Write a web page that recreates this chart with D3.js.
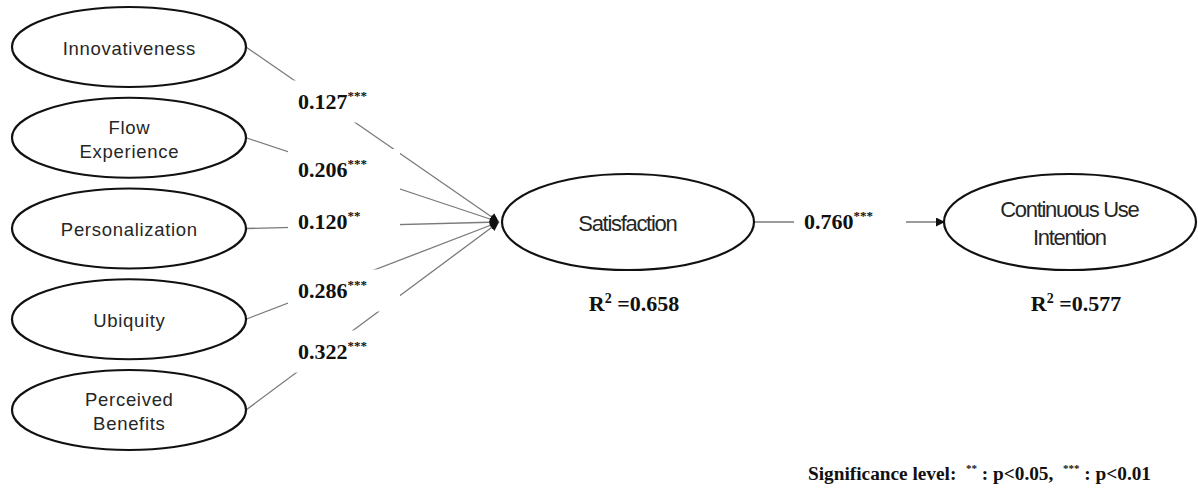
<!DOCTYPE html>
<html>
<head>
<meta charset="utf-8">
<script src="https://cdn.jsdelivr.net/npm/d3@7"></script>
<style>
  html, body { margin: 0; padding: 0; background: #fff; }
  svg { display: block; }
</style>
</head>
<body>
<svg id="chart" width="1198" height="488"></svg>
<script>
// Structural model: five antecedents -> Satisfaction -> Continuous Use Intention
const antecedents = ["Innovativeness", "Flow Experience", "Personalization", "Ubiquity", "Perceived Benefits"];
const pathCoefficients = [0.127, 0.206, 0.120, 0.286, 0.322];
const pathSignificance = ["***", "***", "**", "***", "***"];
const outcomes = ["Satisfaction", "Continuous Use Intention"];
const outcomeR2 = [0.658, 0.577];
const mediatorCoefficient = [0.760];
const mediatorSignificance = ["***"];
const legendItems = [["**", "p<0.05"], ["***", "p<0.01"]];

// line breaks used inside the ellipses
const labelLines = {
  "Innovativeness": ["Innovativeness"],
  "Flow Experience": ["Flow", "Experience"],
  "Personalization": ["Personalization"],
  "Ubiquity": ["Ubiquity"],
  "Perceived Benefits": ["Perceived", "Benefits"],
  "Satisfaction": ["Satisfaction"],
  "Continuous Use Intention": ["Continuous Use", "Intention"]
};

const svg = d3.select("#chart");
const serif = "'Liberation Serif', 'Times New Roman', serif";
const sans = "'Liberation Sans', Arial, sans-serif";

// layout
const yLeft = d3.scalePoint().domain(antecedents).range([47, 410]);
const xOutcome = d3.scalePoint().domain(outcomes).range([628, 1070]);
const leftNode = { cx: 129, rx: 117, ry: 40 };
const outNode = { cy: 222, rx: 126, ry: 48 };
const coefLabelY = [101.5, 170, 221.5, 290.5, 351.5];   // vertical centres of the coefficient boxes
const coefBox = { x: 288, w: 112, h: 42 };

const fmt = d3.format(".3f");

// arrowhead marker
svg.append("defs").append("marker")
  .attr("id", "arrow")
  .attr("viewBox", "0 0 10 10")
  .attr("refX", 10).attr("refY", 5)
  .attr("markerUnits", "userSpaceOnUse")
  .attr("markerWidth", 10).attr("markerHeight", 9)
  .attr("orient", "auto")
  .append("path").attr("d", "M0,0 L10,5 L0,10 Z").attr("fill", "#111");

const satX = xOutcome("Satisfaction");
const cuiX = xOutcome("Continuous Use Intention");
const tip = [satX - outNode.rx - 3, outNode.cy];

// paths from antecedents into Satisfaction
svg.append("g").selectAll("line")
  .data(antecedents)
  .join("line")
  .attr("x1", leftNode.cx + leftNode.rx)
  .attr("y1", d => yLeft(d))
  .attr("x2", tip[0]).attr("y2", tip[1])
  .attr("stroke", "#7a7a7a").attr("stroke-width", 1.3)
  .attr("marker-end", "url(#arrow)");

// Satisfaction -> Continuous Use Intention
svg.append("line")
  .attr("x1", satX + outNode.rx).attr("y1", outNode.cy)
  .attr("x2", cuiX - outNode.rx + 1).attr("y2", outNode.cy)
  .attr("stroke", "#7a7a7a").attr("stroke-width", 1.3)
  .attr("marker-end", "url(#arrow)");

// coefficient labels sit in white boxes that interrupt the paths
function coefLabel(g, value, sig, x, yc) {
  g.append("rect")
    .attr("x", x).attr("y", yc - coefBox.h / 2)
    .attr("width", coefBox.w).attr("height", coefBox.h)
    .attr("fill", "#fff");
  const t = g.append("text")
    .attr("x", x + 10).attr("y", yc + 7)
    .attr("font-family", serif).attr("font-weight", "bold")
    .attr("font-size", 22).attr("fill", "#111");
  t.append("tspan").text(fmt(value));
  t.append("tspan").attr("font-size", 13).attr("dy", -9).text(sig);
}

const labels = svg.append("g");
antecedents.forEach((d, i) => {
  coefLabel(labels, pathCoefficients[i], pathSignificance[i], coefBox.x, coefLabelY[i]);
});
coefLabel(labels, mediatorCoefficient[0], mediatorSignificance[0], satX + outNode.rx + 40, outNode.cy);

// ellipse nodes
function node(g, name, cx, cy, rx, ry, size, spacing, lineGap) {
  g.append("ellipse")
    .attr("cx", cx).attr("cy", cy).attr("rx", rx).attr("ry", ry)
    .attr("fill", "#fff").attr("stroke", "#111").attr("stroke-width", 2.2);
  const lines = labelLines[name];
  const t = g.append("text")
    .attr("text-anchor", "middle")
    .attr("font-family", sans).attr("font-size", size)
    .attr("letter-spacing", spacing)
    .attr("fill", "#262626");
  lines.forEach((l, i) => {
    t.append("tspan")
      .attr("x", cx + spacing / 2)
      .attr("y", cy + size * 0.43 + (i - (lines.length - 1) / 2) * lineGap)
      .text(l);
  });
}

const nodes = svg.append("g");
antecedents.forEach(d => {
  node(nodes, d, leftNode.cx, yLeft(d), leftNode.rx, leftNode.ry, 18.5, 0.7, 24);
});
outcomes.forEach(d => {
  node(nodes, d, xOutcome(d), outNode.cy, outNode.rx, outNode.ry, 22, -1.3, 28);
});

// explained variance under each outcome
outcomes.forEach((d, i) => {
  const t = svg.append("text")
    .attr("x", xOutcome(d) + 6).attr("y", 311)
    .attr("text-anchor", "middle")
    .attr("font-family", serif).attr("font-weight", "bold")
    .attr("font-size", 22).attr("fill", "#111");
  t.append("tspan").text("R");
  t.append("tspan").attr("font-size", 14).attr("dy", -8).text("2");
  t.append("tspan").attr("dy", 8).text(" =" + fmt(outcomeR2[i]));
});

// significance legend
const leg = svg.append("text")
  .attr("x", 808).attr("y", 480)
  .attr("font-family", serif).attr("font-weight", "bold")
  .attr("font-size", 19.3).attr("fill", "#111")
  .attr("xml:space", "preserve");
leg.append("tspan").text("Significance level:  ");
legendItems.forEach((item, i) => {
  leg.append("tspan").attr("font-size", 11).attr("dy", -8).text(item[0]);
  leg.append("tspan").attr("dy", 8).text(" : " + item[1] + (i < legendItems.length - 1 ? ",  " : ""));
});
</script>
</body>
</html>
